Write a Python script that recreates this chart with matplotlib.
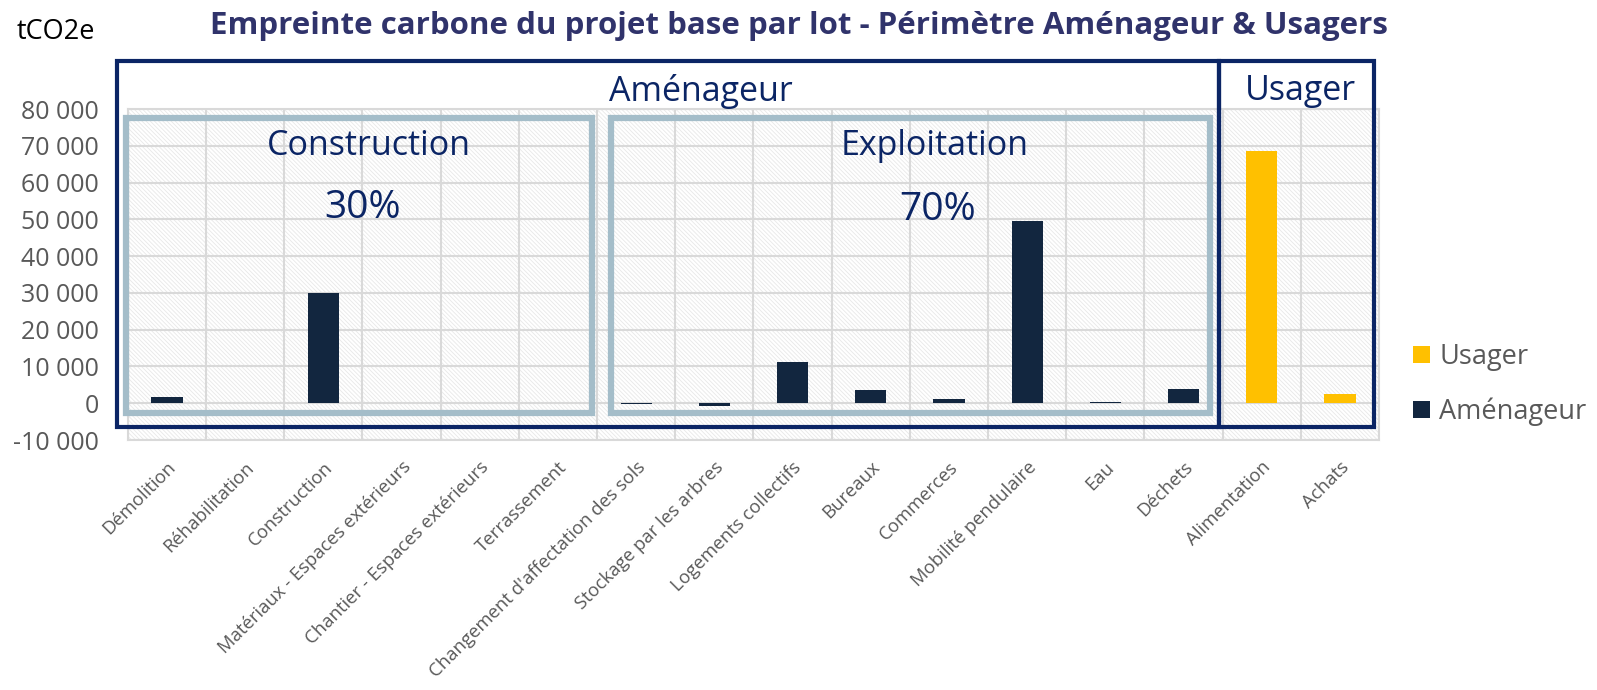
import numpy as np
import matplotlib.pyplot as plt
from matplotlib.patches import Rectangle

# ===============================
# DATA
# ===============================
categories = [
    "Démolition", "Réhabilitation", "Construction",
    "Matériaux - Espaces extérieurs", "Chantier - Espaces extérieurs",
    "Terrassement", "Changement d'affectation des sols",
    "Stockage par les arbres", "Logements collectifs", "Bureaux",
    "Commerces", "Mobilité pendulaire", "Eau", "Déchets",
    "Alimentation", "Achats",
]
amenageur = [1600, 0, 30000, 0, 0, 0, -300, -700, 11300, 3700,
             1100, 49500, 300, 4000, 0, 0]
usager = [0, 0, 0, 0, 0, 0, 0, 0, 0, 0, 0, 0, 0, 0, 68700, 2400]
yticks = [-10000, 0, 10000, 20000, 30000, 40000, 50000, 60000, 70000, 80000]

NAVY_BAR = "#12263F"
YELLOW = "#FFC000"
NAVY_BOX = "#0B2565"
LIGHT_BOX = "#A4BDC9"
GRID = "#D9D9D9"
GREY_TXT = "#595959"

plt.rcParams["font.family"] = ["Open Sans", "DejaVu Sans"]
plt.rcParams["hatch.linewidth"] = 0.6

# ===============================
# FIGURE
# ===============================
fig = plt.figure(figsize=(15.97, 6.90), dpi=100)
ax = fig.add_axes([0.0801, 0.3623, 0.7834, 0.4797])

x = np.arange(len(categories))

# hatched plot area background
ax.add_patch(Rectangle((0, 0), 1, 1, transform=ax.transAxes, facecolor="white",
                       edgecolor="#E8E8E8", hatch="\\" * 8, lw=0, zorder=0))

ax.bar(x, usager, width=0.4, color=YELLOW, label="Usager", zorder=3)
ax.bar(x, amenageur, width=0.4, color=NAVY_BAR, label="Aménageur", zorder=3)

ax.set_xlim(-0.5, len(categories) - 0.5)
ax.set_ylim(-10000, 80000)
ax.set_yticks(yticks)
ax.set_yticklabels([f"{v:,}".replace(",", " ") for v in yticks],
                   fontsize=18, color=GREY_TXT)
ax.set_xticks(x)
ax.set_xticklabels(categories, rotation=45, ha="right", rotation_mode="anchor",
                   fontsize=13.3, color=GREY_TXT)
ax.tick_params(axis="y", length=0, pad=21)
ax.tick_params(axis="x", length=0, pad=13)

ax.set_xticks(np.arange(-0.5, len(categories), 1), minor=True)
ax.tick_params(which="minor", length=0)
ax.grid(axis="y", color=GRID, lw=1.5, zorder=1)
ax.grid(axis="x", which="minor", color=GRID, lw=1.5, zorder=1)
for s in ax.spines.values():
    s.set_color(GRID)
    s.set_linewidth(1.5)

# ===============================
# GROUP BOXES
# ===============================
def box(x0, x1, y0, y1, color, lw):
    ax.add_patch(Rectangle((x0, y0), x1 - x0, y1 - y0, fill=False,
                           edgecolor=color, lw=lw, clip_on=False, zorder=5))

box(-0.64, 13.46, -6500, 93000, NAVY_BOX, 3.0)
box(13.46, 15.43, -6500, 93000, NAVY_BOX, 3.0)
box(-0.53, 5.43, -2700, 77500, LIGHT_BOX, 4.5)
box(5.68, 13.34, -2700, 77500, LIGHT_BOX, 4.5)

txt = dict(color=NAVY_BOX, ha="center", va="center", zorder=6)
ax.text(6.83, 84800, "Aménageur", fontsize=24.5, **txt)
ax.text(14.49, 84800, "Usager", fontsize=24.5, **txt)
ax.text(2.58, 70000, "Construction", fontsize=24.5, **txt)
ax.text(2.5, 53000, "30%", fontsize=28, **txt)
ax.text(9.82, 70000, "Exploitation", fontsize=24.5, **txt)
ax.text(9.85, 52500, "70%", fontsize=28, **txt)

# ===============================
# TITLES / LEGEND
# ===============================
fig.text(0.5, 0.963, "Empreinte carbone du projet base par lot - Périmètre Aménageur & Usagers",
         ha="center", va="center", fontsize=22.5, fontweight="bold", color="#30336B")
fig.text(0.035, 0.953, "tCO2e", ha="center", va="center", fontsize=19.5, color="black")

ax.legend(loc="center left", bbox_to_anchor=(1.008, 0.168), frameon=False,
          fontsize=19.5, labelcolor=GREY_TXT, handlelength=0.6, handleheight=0.6,
          labelspacing=0.98, handletextpad=0.35)

fig.savefig("out.png", dpi=100)
